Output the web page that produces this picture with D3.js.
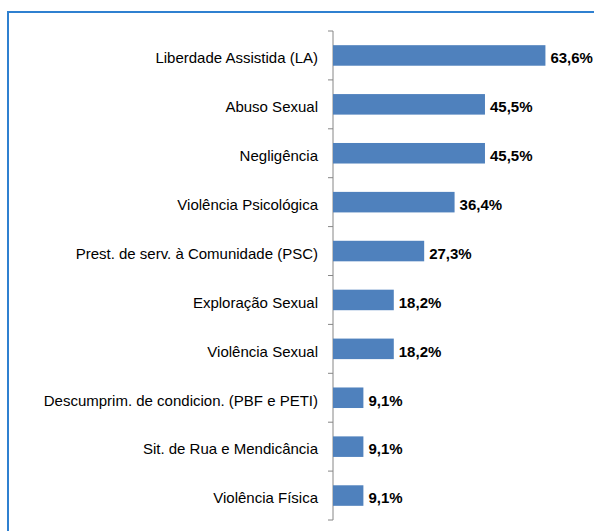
<!DOCTYPE html>
<html lang="pt">
<head>
<meta charset="utf-8">
<title>bar chart</title>
<script src="https://cdn.jsdelivr.net/npm/d3@7"></script>
<style>
  body { margin: 0; background: #fff; }
  text { font-family: "Liberation Sans Narrow", "Arial Narrow", "Liberation Sans", sans-serif; }
</style>
</head>
<body>
<script>
  var categories = ['Liberdade Assistida (LA)', 'Abuso Sexual', 'Negligência', 'Violência Psicológica',
    'Prest. de serv. à Comunidade (PSC)', 'Exploração Sexual', 'Violência Sexual',
    'Descumprim. de condicion. (PBF e PETI)', 'Sit. de Rua e Mendicância', 'Violência Física'];
  var values = [63.6, 45.5, 45.5, 36.4, 27.3, 18.2, 18.2, 9.1, 9.1, 9.1];
  var valueLabels = ['63,6%', '45,5%', '45,5%', '36,4%', '27,3%', '18,2%', '18,2%', '9,1%', '9,1%', '9,1%'];

  var width = 594, height = 531;
  var svg = d3.select('body').append('svg')
    .attr('width', width)
    .attr('height', height);

  // moldura azul do gráfico
  svg.append('rect')
    .attr('x', 8).attr('y', 12)
    .attr('width', 620).attr('height', 540)
    .style('fill', 'none')
    .style('stroke', '#2f80d0')
    .style('stroke-width', 2);

  var x0 = 333;
  var x = d3.scaleLinear().domain([0, 70]).range([x0, x0 + 233.8]);
  var y = d3.scaleBand().domain(categories).range([31, 520]).paddingInner(0.58).paddingOuter(0.29);

  // eixo vertical com marcas entre as categorias
  var tickYs = d3.range(categories.length + 1).map(i => 31 + i * (489 / categories.length));
  var axis = svg.append('g');
  axis.append('line')
    .attr('x1', x0).attr('x2', x0)
    .attr('y1', 31).attr('y2', 520)
    .style('stroke', '#868686').style('stroke-width', 1);
  axis.selectAll('.tick').data(tickYs).enter().append('line')
    .attr('x1', x0 - 5).attr('x2', x0)
    .attr('y1', d => d).attr('y2', d => d)
    .style('stroke', '#868686').style('stroke-width', 1);

  svg.append('g').selectAll('rect')
    .data(values)
    .enter().append('rect')
    .attr('x', x(0))
    .attr('y', (d, i) => y(categories[i]))
    .attr('width', d => x(d) - x(0))
    .attr('height', y.bandwidth())
    .style('fill', '#4f81bd');

  svg.append('g').selectAll('text')
    .data(categories)
    .enter().append('text')
    .attr('x', 318)
    .attr('y', d => y(d) + y.bandwidth() / 2 + 2.5)
    .attr('dy', '0.35em')
    .attr('text-anchor', 'end')
    .style('font-size', '15px')
    .style('fill', '#000')
    .text(d => d);

  svg.append('g').selectAll('text')
    .data(values)
    .enter().append('text')
    .attr('x', d => x(d) + 5)
    .attr('y', (d, i) => y(categories[i]) + y.bandwidth() / 2 + 2.5)
    .attr('dy', '0.35em')
    .style('font-size', '15px')
    .style('font-weight', 'bold')
    .style('fill', '#000')
    .text((d, i) => valueLabels[i]);
</script>
</body>
</html>
